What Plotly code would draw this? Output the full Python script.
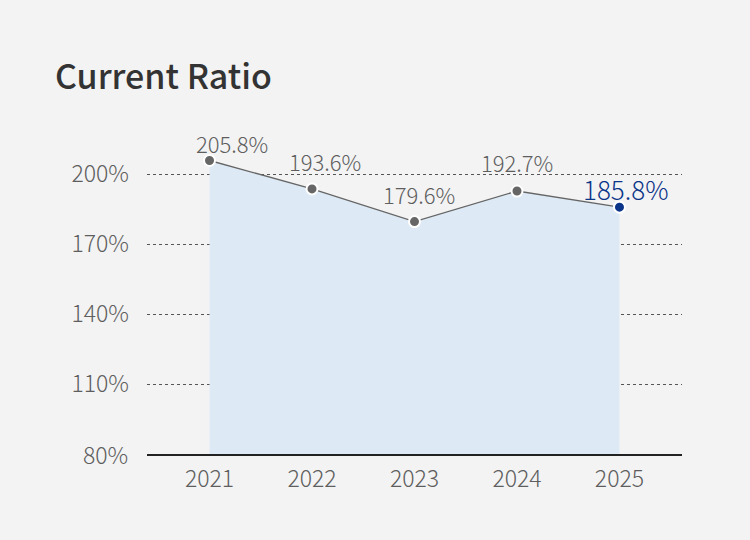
import plotly.graph_objects as go

years = ["2021", "2022", "2023", "2024", "2025"]
ratio = [205.8, 193.6, 179.6, 192.7, 185.8]
labels = ["205.8%", "193.6%", "179.6%", "192.7%", "185.8%"]
y_ticks = [80, 110, 140, 170, 200]
y_tick_text = ["80%", "110%", "140%", "170%", "200%"]

FONT = "Noto Sans CJK KR"
BG = "#f3f3f3"
GRAY = "#5e5e5e"
LINE = "#666666"
BLUE = "#0b3588"

label_xshift = [22, 13, 4, 0, 6]
label_yshift = [17, 28, 28, 29, 19]

fig = go.Figure()

fig.add_trace(go.Scatter(
    x=years, y=ratio, mode="lines",
    line=dict(color=LINE, width=1.4),
    fill="tozeroy", fillcolor="#ddeaf6",
    hoverinfo="skip", showlegend=False,
))
fig.add_trace(go.Scatter(
    x=years, y=ratio, mode="markers",
    marker=dict(size=11, color=[LINE] * 4 + [BLUE],
                line=dict(color="white", width=2)),
    showlegend=False,
))

for i, (v, t) in enumerate(zip(ratio, labels)):
    last = i == len(years) - 1
    fig.add_annotation(
        x=i, xref="x", y=v, yref="y", text=t, showarrow=False,
        xshift=label_xshift[i], yshift=label_yshift[i],
        font=dict(family=FONT, size=26 if last else 22,
                  color=BLUE if last else GRAY, weight=300),
    )

fig.update_layout(
    width=750, height=540,
    paper_bgcolor=BG, plot_bgcolor=BG,
    margin=dict(l=147, r=68, t=139, b=86),
    title=dict(text="Current Ratio", x=55 / 750, xref="container", xanchor="left",
               y=1 - 77 / 540, yref="container", yanchor="middle",
               font=dict(family=FONT, size=34, color="#333333", weight=500)),
    xaxis=dict(
        type="category", range=[-0.61, 4.61],
        showgrid=False, zeroline=False,
        showline=True, linecolor="#222222", linewidth=1.5,
        ticks="", ticklabelstandoff=4,
        tickfont=dict(family=FONT, size=23, color=GRAY, weight=300),
    ),
    yaxis=dict(
        range=[80, 215], tickvals=y_ticks[1:], ticktext=y_tick_text[1:],
        showgrid=True, gridcolor="#555555", griddash="dot", gridwidth=1,
        zeroline=False, showline=False, ticks="",
        ticklabelstandoff=17,
        tickfont=dict(family=FONT, size=23, color=GRAY, weight=300),
    ),
)
fig.add_annotation(x=0, xref="paper", y=80, yref="y", text=y_tick_text[0],
                   showarrow=False, xanchor="right", xshift=-17,
                   font=dict(family=FONT, size=23, color=GRAY, weight=300))

fig.write_html("out.html", config={"displayModeBar": False},
               post_script="document.body.style.margin='0';document.body.style.background='#f3f3f3';")
